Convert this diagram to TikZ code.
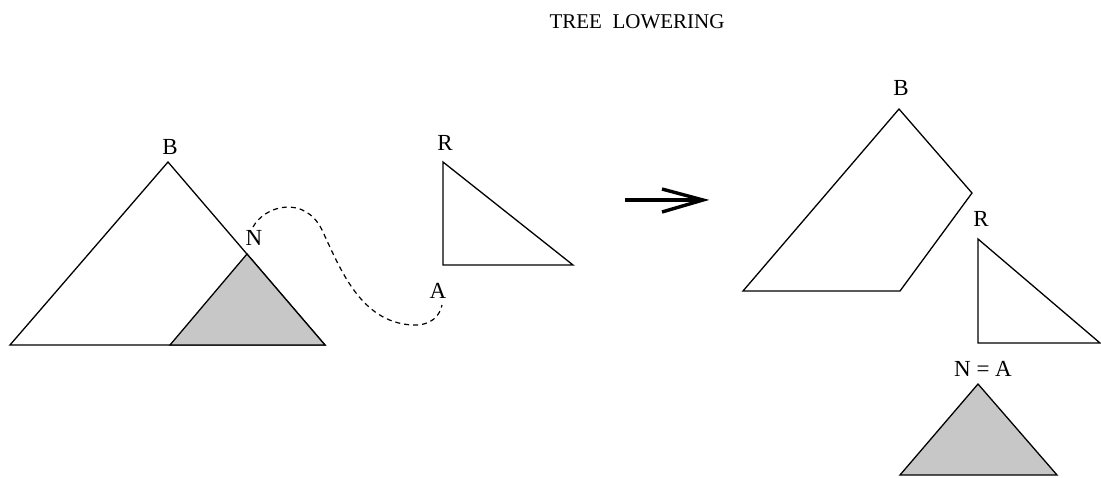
\documentclass[tikz,border=0pt]{standalone}
\usepackage{fontspec}
\setmainfont{Liberation Serif}
\begin{document}
\begin{tikzpicture}[x=1pt,y=-1pt,
  edge/.style={line width=1.3pt, line join=miter},
  shade/.style={edge, fill=black!22},
  lbl/.style={inner sep=0pt, font=\fontsize{23}{26}\selectfont},
  ttl/.style={inner sep=0pt, font=\fontsize{21}{24}\selectfont},
  move/.style={line width=1.2pt, dash pattern=on 5pt off 4pt},
  bigarrow/.style={line width=3.6pt, line cap=butt}]
\useasboundingbox (0,0) rectangle (1101,477);
% title
\node[ttl] (title) at (637,22) {TREE\ \ LOWERING};
% left big tree B with shaded subtree N
\coordinate (Btop) at (168,162);
\coordinate (Bl) at (10,345);
\coordinate (Br) at (325,345);
\coordinate (Npt) at (247,254);
\coordinate (Nl) at (170,345);
\draw[edge] (Btop) -- (Bl) -- (Br) -- cycle;
\draw[shade] (Npt) -- (Nl) -- (Br) -- cycle;
\node[lbl] (labB) at (170,147) {B};
\node[lbl] (labN) at (254,238) {N};
% tree R
\coordinate (Rtop) at (443,162);
\coordinate (Rbl) at (443,265);
\coordinate (Rbr) at (573,265);
\draw[edge] (Rtop) -- (Rbl) -- (Rbr) -- cycle;
\node[lbl] (labR) at (445,143) {R};
\node[lbl] (labA) at (438,291) {A};
% dashed move
\coordinate (mvS) at (253,227);
\coordinate (mvE) at (442,305);
\draw[move] (mvS) .. controls (265,205) and (305,195) .. (322,230)
  .. controls (340,268) and (360,322) .. (412,325)
  .. controls (432,326) and (440,315) .. (mvE);
% arrow
\coordinate (arL) at (625,200);
\coordinate (arR) at (703,200);
\coordinate (arU) at (662,189);
\coordinate (arD) at (662,212);
\draw[bigarrow] (arL) -- (arR);
\draw[line width=3.4pt, line join=miter, miter limit=20] (arU) -- (arR) -- (arD);
% right: quadrilateral B
\coordinate (qT) at (899,109);
\coordinate (qR) at (972,193);
\coordinate (qBR) at (900,291);
\coordinate (qBL) at (743,291);
\draw[edge] (qT) -- (qR) -- (qBR) -- (qBL) -- cycle;
\node[lbl] (labB2) at (901,88) {B};
% right: R tree
\coordinate (R2top) at (978,239);
\coordinate (R2bl) at (978,343);
\coordinate (R2br) at (1100,343);
\draw[edge] (R2top) -- (R2bl) -- (R2br) -- cycle;
\node[lbl] (labR2) at (981,219) {R};
% right: shaded N = A
\coordinate (S2top) at (978,384);
\coordinate (S2l) at (900,475);
\coordinate (S2r) at (1057,475);
\draw[shade] (S2top) -- (S2l) -- (S2r) -- cycle;
\node[lbl] (labNA) at (983,369) {N = A};
\end{tikzpicture}
\end{document}
